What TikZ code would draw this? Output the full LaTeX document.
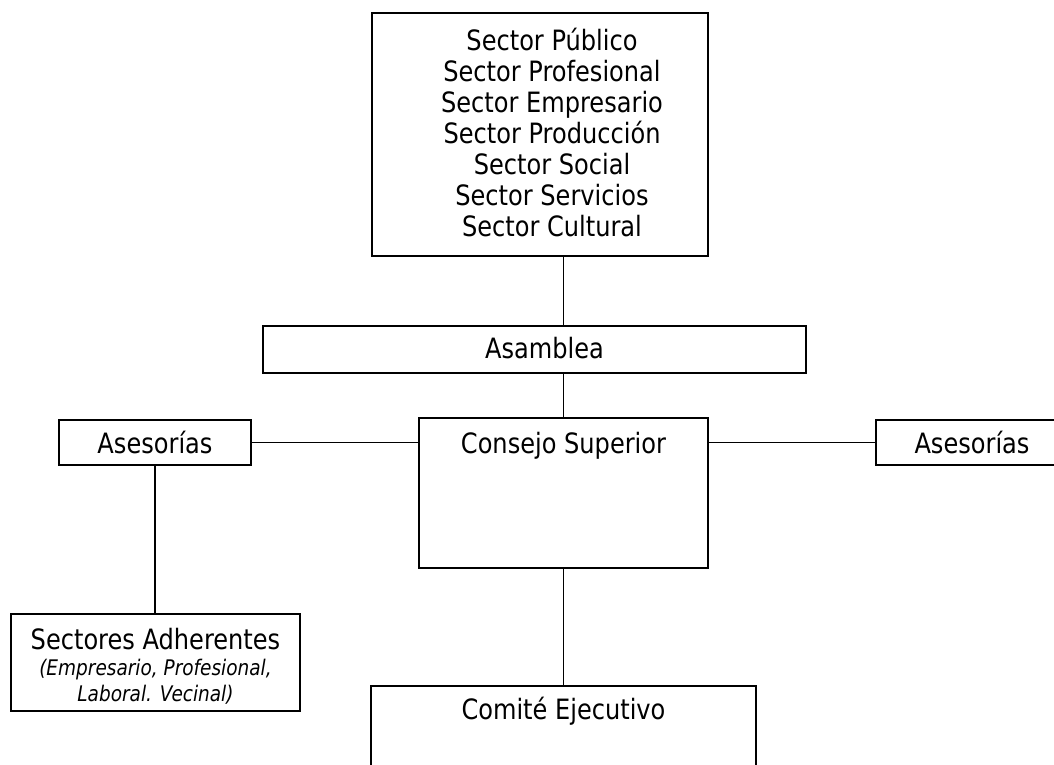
\documentclass[tikz,border=0pt]{standalone}
\usepackage{fontspec}
\setmainfont{DejaVu Sans}[FakeStretch=0.86]
\usepackage{tikz}
\usetikzlibrary{calc}
\definecolor{ink}{HTML}{000000}
\newcommand\subfont{\fontsize{21.5}{26}\selectfont\itshape}
\tikzset{
  box/.style={draw=ink, line width=2.8pt, inner sep=0pt, align=center},
  link/.style={draw=ink, line width=1.8pt},
  lab/.style={text=ink, font=\fontsize{28}{31}\selectfont},
  labt/.style={text=ink, font=\fontsize{28}{26}\selectfont},
}

\begin{document}
\begin{tikzpicture}[x=1pt,y=-1pt]
  \clip (0,0) rectangle (1054,765);
  \node[box,minimum width=336pt,minimum height=243pt,
        label={[lab,align=center,anchor=center,xshift=12pt,yshift=-121pt]north:Sector Público\\Sector Profesional\\Sector Empresario\\Sector Producción\\Sector Social\\Sector Servicios\\Sector Cultural}] (sect) at (540,134.5) {};
  \node[box,minimum width=543pt,minimum height=47pt,
        label={[lab,anchor=center,xshift=10pt,yshift=-23.5pt]north:Asamblea}] (asam) at (534.5,349.5) {};
  \node[box,minimum width=289pt,minimum height=150pt,
        label={[lab,anchor=center,yshift=-29pt]north:Consejo Superior}] (cons) at (563.5,493) {};
  \node[box,lab,minimum width=192pt,minimum height=45pt] (asesL) at (155,442.5) {Asesorías};
  \node[box,lab,minimum width=192pt,minimum height=45pt] (asesR) at (972,442.5) {Asesorías};
  \node[box,minimum width=289pt,minimum height=97pt,
        label={[labt,align=center,anchor=center,yshift=-54pt]north:Sectores Adherentes\\{\subfont(Empresario, Profesional,}\\{\subfont Laboral. Vecinal)}}] (adh) at (155.5,662.5) {};
  \node[box,minimum width=385pt,minimum height=150pt,
        label={[lab,anchor=center,yshift=-27pt]north:Comité Ejecutivo}] (comi) at (563.5,761) {};
  \draw[link] (cons.north |- sect.south) -- (cons.north |- asam.north);
  \draw[link] (cons.north |- asam.south) -- (cons.north);
  \draw[link] (asesL.east) -- (asesL.east -| cons.west);
  \draw[link] (cons.east |- asesR.west) -- (asesR.west);
  \draw[link] (asesL.south) -- (adh.north -| asesL.south);
  \draw[link] (cons.south) -- (comi.north);
\end{tikzpicture}
\end{document}
